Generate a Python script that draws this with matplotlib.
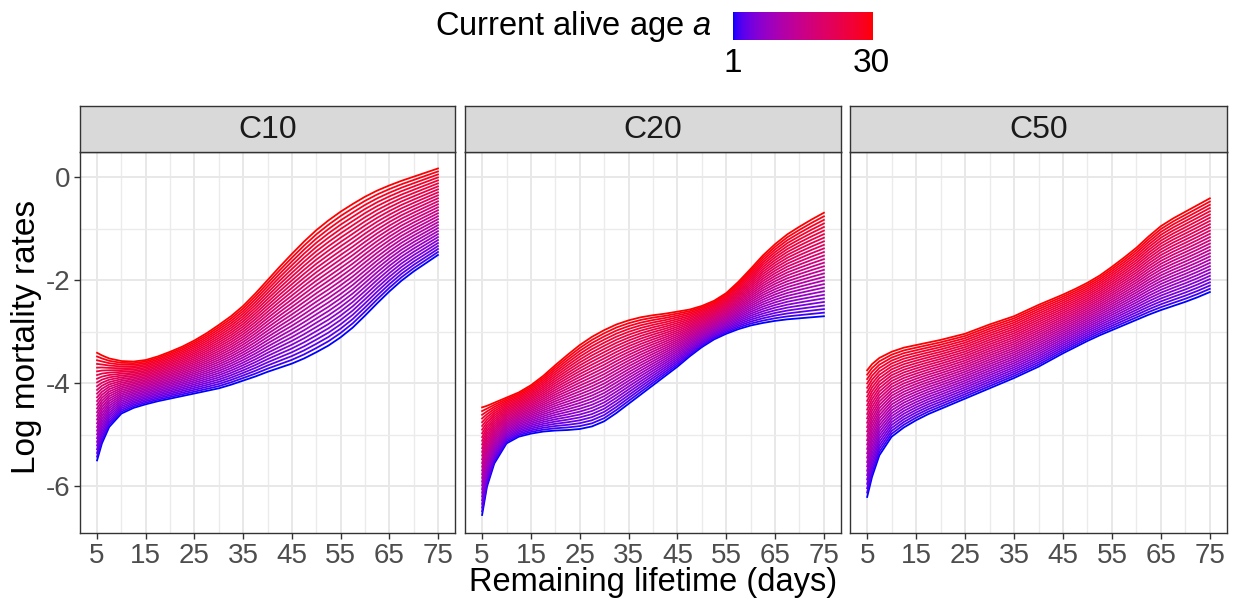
import numpy as np
import matplotlib
matplotlib.use("Agg")
import matplotlib.pyplot as plt

plt.rcParams['font.family'] = ['Liberation Sans', 'DejaVu Sans']
plt.rcParams['mathtext.fontset'] = 'custom'
plt.rcParams['mathtext.rm'] = 'Liberation Sans'
plt.rcParams['mathtext.it'] = 'Liberation Sans:italic'
plt.rcParams['axes.unicode_minus'] = False

days = [5, 6, 7.5, 10, 12.5, 15, 17.5, 20, 22.5, 25, 27.5, 30, 32.5, 35, 37.5,
        40, 42.5, 45, 47.5, 50, 52.5, 55, 57.5, 60, 62.5, 65, 67.5, 70, 72.5, 75]
ages = list(range(1, 31))
panels = ["C10", "C20", "C50"]

# lowest curve (age 1, blue) and highest curve (age 30, red) per panel
c10_age1 = [-5.50, -5.17, -4.85, -4.59, -4.48, -4.41, -4.35, -4.30, -4.25, -4.20,
            -4.15, -4.10, -4.03, -3.95, -3.87, -3.78, -3.70, -3.62, -3.52, -3.40,
            -3.27, -3.11, -2.92, -2.69, -2.45, -2.22, -2.01, -1.83, -1.67, -1.51]
c10_age30 = [-3.41, -3.46, -3.52, -3.57, -3.58, -3.55, -3.48, -3.39, -3.29, -3.17,
             -3.03, -2.87, -2.70, -2.50, -2.26, -2.00, -1.74, -1.49, -1.25, -1.03,
             -0.84, -0.67, -0.52, -0.38, -0.26, -0.16, -0.07, 0.01, 0.09, 0.17]
c20_age1 = [-6.56, -6.01, -5.56, -5.17, -5.04, -4.98, -4.94, -4.92, -4.91, -4.89,
            -4.84, -4.74, -4.58, -4.40, -4.22, -4.04, -3.86, -3.68, -3.48, -3.30,
            -3.15, -3.04, -2.95, -2.88, -2.83, -2.79, -2.76, -2.74, -2.72, -2.70]
c20_age30 = [-4.47, -4.44, -4.38, -4.28, -4.18, -4.04, -3.86, -3.65, -3.45, -3.26,
             -3.10, -2.97, -2.86, -2.78, -2.72, -2.68, -2.65, -2.61, -2.57, -2.50,
             -2.40, -2.25, -2.03, -1.78, -1.52, -1.30, -1.11, -0.96, -0.82, -0.69]
c50_age1 = [-6.21, -5.82, -5.40, -5.04, -4.86, -4.72, -4.60, -4.50, -4.40, -4.30,
            -4.20, -4.10, -4.00, -3.90, -3.79, -3.68, -3.55, -3.42, -3.30, -3.18,
            -3.07, -2.97, -2.87, -2.77, -2.67, -2.58, -2.50, -2.42, -2.33, -2.23]
c50_age30 = [-3.75, -3.63, -3.51, -3.39, -3.31, -3.26, -3.21, -3.16, -3.10, -3.04,
             -2.95, -2.86, -2.78, -2.70, -2.59, -2.48, -2.38, -2.28, -2.17, -2.05,
             -1.91, -1.74, -1.56, -1.37, -1.15, -0.95, -0.80, -0.67, -0.54, -0.41]

lows = {"C10": c10_age1, "C20": c20_age1, "C50": c50_age1}
highs = {"C10": c10_age30, "C20": c20_age30, "C50": c50_age30}


# ggplot-like blue -> red gradient (Lab space)
M = np.array([[0.4124, 0.3576, 0.1805], [0.2126, 0.7152, 0.0722], [0.0193, 0.1192, 0.9505]])
WHITE = np.array([0.95047, 1.0, 1.08883])


def to_lab(rgb):
    c = np.asarray(rgb, float)
    lin = np.where(c <= 0.04045, c / 12.92, ((c + 0.055) / 1.055) ** 2.4)
    xyz = M @ lin / WHITE
    f = np.where(xyz > 0.008856, np.cbrt(xyz), 7.787 * xyz + 16 / 116)
    return np.array([116 * f[1] - 16, 500 * (f[0] - f[1]), 200 * (f[1] - f[2])])


def from_lab(lab):
    L, a, b = lab
    fy = (L + 16) / 116
    f = np.array([fy + a / 500, fy, fy - b / 200])
    xyz = np.where(f ** 3 > 0.008856, f ** 3, (f - 16 / 116) / 7.787) * WHITE
    lin = np.clip(np.linalg.solve(M, xyz), 0, 1)
    c = np.where(lin <= 0.0031308, 12.92 * lin, 1.055 * lin ** (1 / 2.4) - 0.055)
    return np.clip(c, 0, 1)


lab_lo, lab_hi = to_lab([0, 0, 1]), to_lab([1, 0, 0])


def grad(t):
    return from_lab(lab_lo + t * (lab_hi - lab_lo))


fig = plt.figure(figsize=(12.33, 6.02), dpi=100)
W, H = 1233, 602

lefts = [80, 465, 850]
rights = [455, 841, 1227]
top, bottom, strip_top = 152, 533, 106

for k, name in enumerate(panels):
    ax = fig.add_axes([lefts[k] / W, 1 - bottom / H, (rights[k] - lefts[k]) / W, (bottom - top) / H])
    lo = np.array(lows[name])
    hi = np.array(highs[name])
    for a in ages:
        t = (a - 1) / 29
        ax.plot(days, lo + t * (hi - lo), color=grad(t), lw=1.3, zorder=3)
    ax.set_xlim(1.5, 78.5)
    ax.set_ylim(-6.91, 0.49)
    ax.set_xticks(range(5, 76, 10))
    ax.set_xticks(range(10, 71, 10), minor=True)
    ax.set_yticks([0, -2, -4, -6])
    ax.set_yticks([-1, -3, -5], minor=True)
    ax.grid(which='major', color='#E8E8E8', lw=1.4, zorder=0)
    ax.grid(which='minor', color='#EBEBEB', lw=1.0, zorder=0)
    ax.set_axisbelow(True)
    for s in ax.spines.values():
        s.set_color('#333333')
        s.set_linewidth(1.0)
    ax.tick_params(which='major', direction='out', length=4, width=1, color='#333333',
                   labelsize=20, labelcolor='#4D4D4D', pad=3)
    ax.tick_params(which='minor', length=0)
    if k > 0:
        ax.tick_params(axis='y', which='both', left=False, labelleft=False)

    st = fig.add_axes([lefts[k] / W, 1 - top / H, (rights[k] - lefts[k]) / W, (top - strip_top) / H])
    st.set_facecolor('#D9D9D9')
    st.set_xticks([])
    st.set_yticks([])
    for s in st.spines.values():
        s.set_color('#333333')
        s.set_linewidth(1.0)
    st.text(0.5, 0.48, name, ha='center', va='center', fontsize=23, color='#1A1A1A',
            transform=st.transAxes)

fig.text(653 / W, 1 - 582 / H, "Remaining lifetime (days)", ha='center', va='center', fontsize=23.5)
fig.text(27 / W, 1 - 337 / H, "Log mortality rates", ha='center', va='center', fontsize=24,
         rotation=90)

# colour legend
cb = fig.add_axes([733 / W, 1 - 40 / H, 140 / W, 28 / H])
g = np.array([grad(t) for t in np.linspace(0, 1, 256)])
cb.imshow(g[None, :, :], aspect='auto', extent=[1, 30, 0, 1])
cb.set_xticks([])
cb.set_yticks([])
for s in cb.spines.values():
    s.set_visible(False)
fig.text(712 / W, 1 - 27 / H, "Current alive age $a$", ha='right', va='center', fontsize=23.5)
fig.text(733 / W, 1 - 63 / H, "1", ha='center', va='center', fontsize=24)
fig.text(871 / W, 1 - 63 / H, "30", ha='center', va='center', fontsize=24)

fig.savefig("out.png", dpi=100)
